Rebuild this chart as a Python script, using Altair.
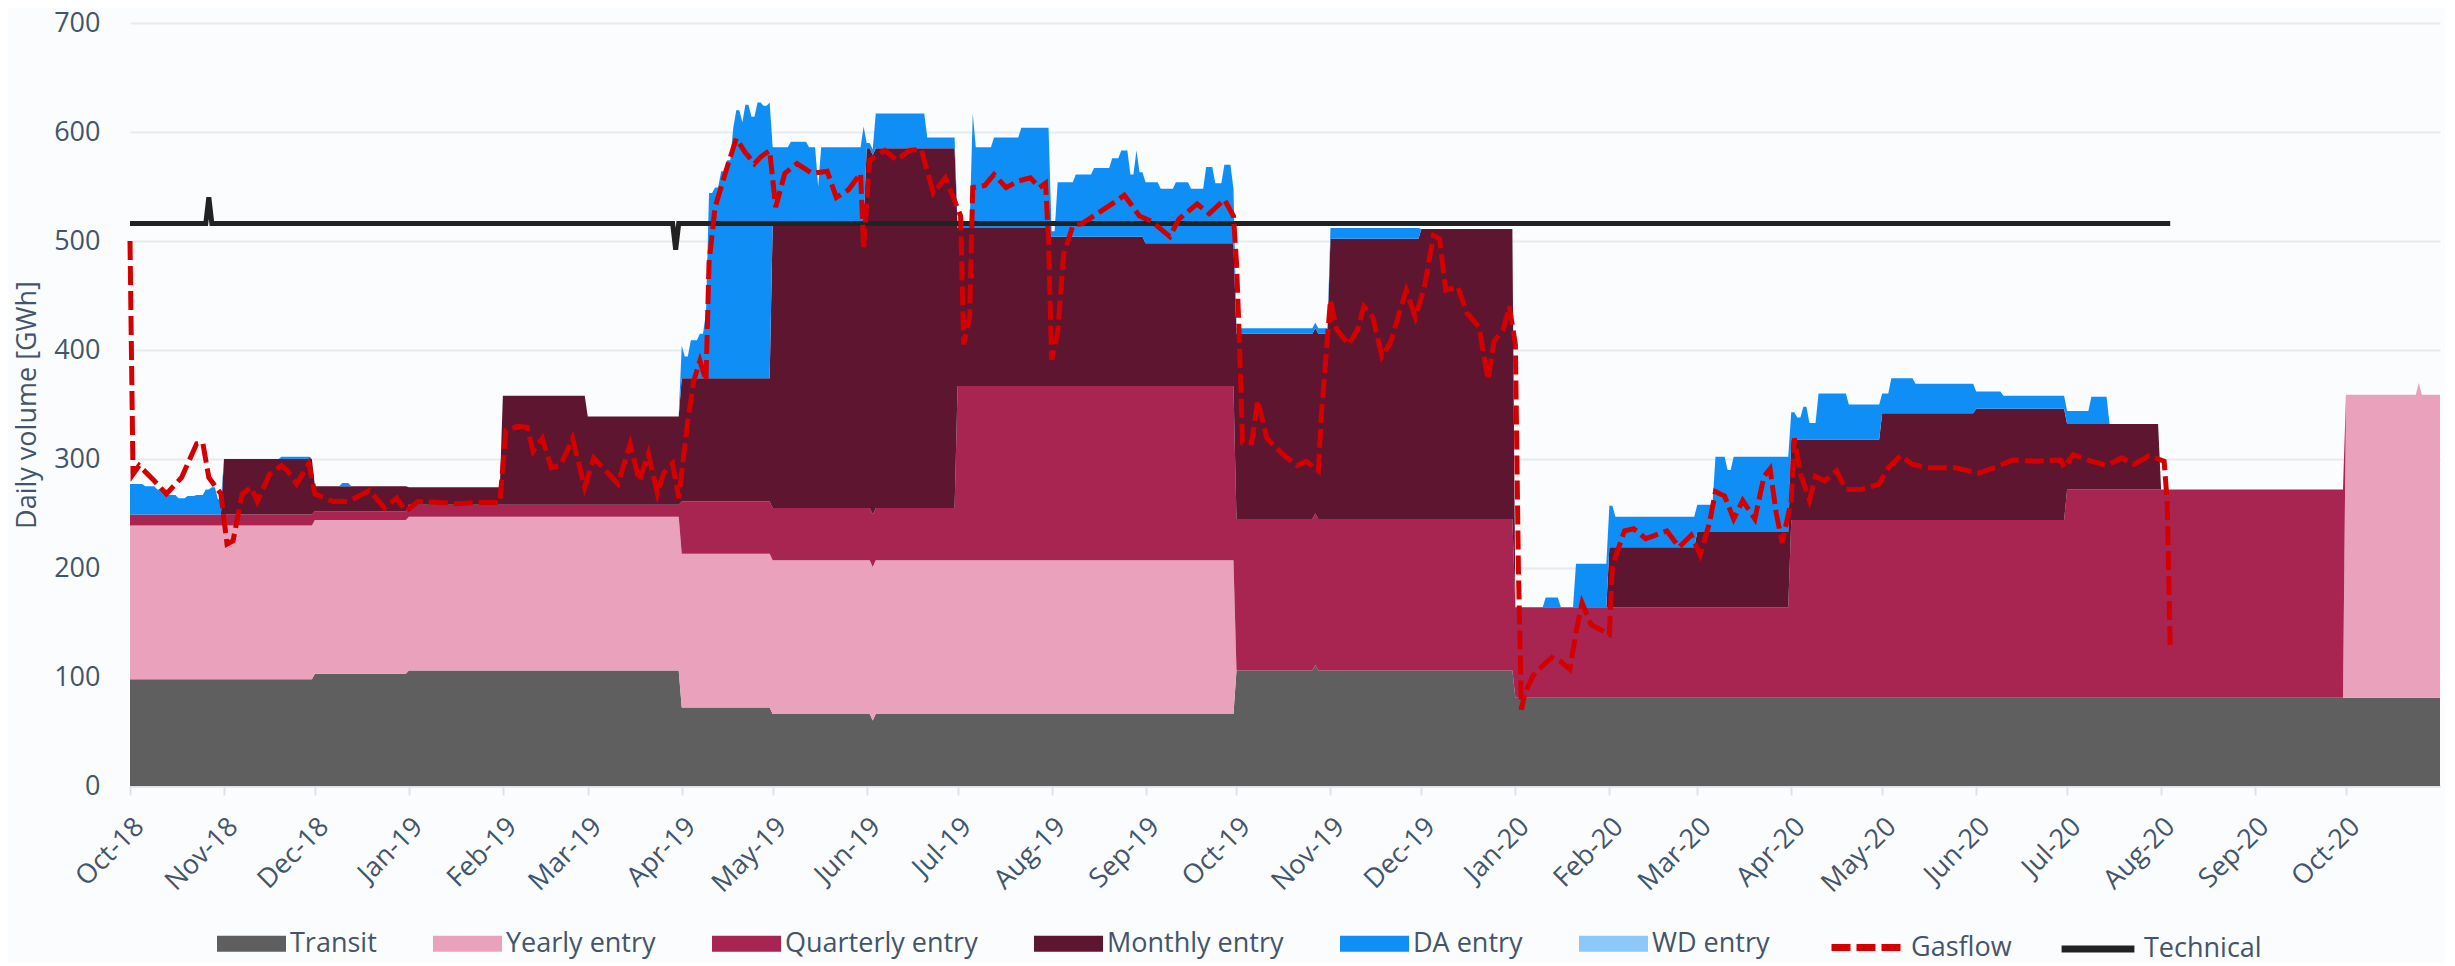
import altair as alt
import pandas as pd

START = "2018-10-01"
END = "2020-11-01"

area_names = ["Transit", "Yearly entry", "Quarterly entry", "Monthly entry",
              "DA entry", "WD entry"]
area_colors = ["#5f5f5f", "#eaa2bc", "#a82552", "#5e1530", "#0f8ff6", "#8cc8f8"]
GAS_COLOR = "#d40000"
TECH_COLOR = "#222222"
GAS_DASH = [19, 6]

# step series: (start of period, value in GWh/d)
transit = [("2018-10-01", 98), ("2018-12-01", 103), ("2019-01-01", 106),
           ("2019-04-01", 72), ("2019-05-01", 66), ("2019-06-03", 60),
           ("2019-06-04", 66), ("2019-10-01", 106), ("2019-10-27", 111),
           ("2019-10-28", 106), ("2020-01-01", 81)]
yearly = [("2018-10-01", 141), ("2019-10-01", 0), ("2020-10-01", 278),
          ("2020-10-25", 289), ("2020-10-26", 278)]
quarterly = [("2018-10-01", 10), ("2018-12-01", 8), ("2019-01-01", 11),
             ("2019-04-01", 48), ("2019-07-01", 160), ("2019-10-01", 139),
             ("2020-01-01", 83), ("2020-04-01", 163), ("2020-07-01", 191),
             ("2020-10-01", 0)]
monthly = [("2018-10-01", 0), ("2018-11-01", 51), ("2018-12-01", 23),
           ("2019-01-01", 16), ("2019-02-01", 100), ("2019-03-01", 81),
           ("2019-04-01", 113), ("2019-05-01", 260), ("2019-06-01", 330),
           ("2019-07-01", 145), ("2019-08-01", 137), ("2019-09-01", 131),
           ("2019-10-01", 170), ("2019-11-01", 257), ("2019-12-01", 266),
           ("2020-01-01", 0), ("2020-02-01", 55), ("2020-03-01", 69),
           ("2020-04-01", 74), ("2020-05-01", 98), ("2020-06-01", 102),
           ("2020-07-01", 60), ("2020-08-01", 0)]
# day-ahead entry: (day since 2018-10-01, value)
da_entry = [(0, 28), (5, 26), (9, 23), (13, 18), (16, 15), (19, 17), (22, 18),
            (25, 23), (27, 25), (29, 14), (31, 0), (50, 2), (60, 0), (70, 3),
            (73, 0), (182, 30), (183, 20), (185, 35), (188, 41), (190, 60),
            (191, 170), (193, 175), (195, 190), (197, 200), (199, 230),
            (200, 246), (202, 235), (203, 251), (205, 240), (207, 253),
            (209, 250), (211, 253), (212, 71), (218, 76), (224, 71), (227, 35),
            (228, 71), (240, 71), (242, 90), (243, 5), (246, 32), (263, 10),
            (273, 5), (278, 105), (279, 74), (285, 83), (294, 92), (304, 5),
            (306, 50), (312, 57), (318, 63), (324, 72), (327, 79), (330, 57),
            (332, 79), (333, 59), (335, 56), (340, 50), (345, 56), (350, 50),
            (355, 70), (358, 55), (361, 72), (364, 50), (365, 5), (396, 10),
            (426, 0), (467, 9), (472, 0), (477, 40), (488, 38), (490, 28),
            (517, 25), (523, 69), (527, 57), (529, 69), (548, 25), (550, 20),
            (552, 30), (554, 15), (557, 42), (567, 32), (578, 18), (581, 32),
            (589, 27), (609, 16), (618, 12), (639, 12), (647, 25), (653, 0)]

gasflow = [(0, 500), (1, 286), (3, 294), (8, 280), (12, 268), (17, 283),
           (22, 314), (24, 315), (26, 283), (30, 268), (32, 222), (34, 225),
           (37, 268), (40, 274), (42, 261), (46, 286), (50, 294), (52, 289),
           (55, 277), (59, 296), (61, 268), (67, 261), (72, 261), (79, 271),
           (84, 255), (88, 264), (91, 252), (95, 261), (102, 260), (108, 259),
           (114, 260), (122, 260), (124, 326), (128, 330), (131, 329),
           (133, 307), (136, 319), (139, 292), (142, 294), (146, 319),
           (150, 274), (153, 301), (158, 286), (161, 277), (165, 314),
           (168, 280), (171, 305), (174, 268), (176, 287), (179, 296),
           (181, 264), (184, 335), (186, 372), (188, 390), (190, 372),
           (191, 480), (193, 531), (197, 568), (200, 594), (203, 581),
           (206, 571), (208, 577), (211, 583), (213, 531), (216, 562),
           (220, 571), (225, 562), (230, 564), (233, 540), (237, 547),
           (241, 562), (242, 493), (244, 574), (249, 583), (253, 574),
           (257, 583), (261, 584), (265, 544), (269, 558), (271, 544),
           (274, 523), (275, 405), (277, 431), (278, 549), (282, 551),
           (285, 561), (289, 549), (293, 555), (297, 558), (300, 549),
           (302, 553), (303, 501), (304, 391), (306, 415), (308, 488),
           (311, 514), (314, 516), (319, 525), (325, 536), (328, 542),
           (333, 523), (337, 518), (343, 504), (346, 520), (352, 534),
           (356, 525), (361, 538), (364, 523), (365, 480), (366, 405),
           (367, 315), (370, 315), (372, 354), (375, 319), (380, 305),
           (385, 294), (388, 298), (392, 289), (393, 341), (396, 446),
           (398, 419), (402, 405), (405, 419), (407, 440), (410, 430),
           (413, 394), (416, 408), (419, 437), (421, 455), (424, 430),
           (427, 458), (430, 505), (432, 502), (434, 455), (438, 458),
           (441, 434), (445, 421), (448, 373), (450, 408), (453, 419),
           (455, 440), (457, 405), (458, 198), (459, 70), (460, 84),
           (463, 102), (467, 113), (469, 118), (472, 114), (475, 107),
           (477, 141), (479, 168), (482, 148), (484, 145), (488, 139),
           (489, 202), (493, 234), (496, 236), (500, 227), (503, 230),
           (507, 234), (511, 219), (515, 230), (518, 212), (521, 241),
           (523, 270), (526, 266), (529, 245), (532, 262), (536, 245),
           (539, 284), (541, 291), (543, 251), (545, 223), (548, 262),
           (549, 319), (551, 287), (554, 262), (556, 284), (559, 280),
           (563, 289), (566, 272), (571, 272), (577, 277), (580, 292),
           (584, 303), (588, 295), (593, 292), (602, 292), (610, 287),
           (615, 292), (621, 299), (629, 298), (637, 299), (638, 292),
           (641, 304), (647, 298), (652, 294), (657, 301), (661, 295),
           (666, 303), (671, 298), (672, 261), (673, 127)]

technical = [(0, 516), (25, 516), (26, 540), (27, 516), (179, 516),
             (180, 492), (181, 516), (673, 516)]

y_ticks = [0, 100, 200, 300, 400, 500, 600, 700]
x_ticks = ["2018-10-01", "2018-11-01", "2018-12-01", "2019-01-01", "2019-02-01",
           "2019-03-01", "2019-04-01", "2019-05-01", "2019-06-01", "2019-07-01",
           "2019-08-01", "2019-09-01", "2019-10-01", "2019-11-01", "2019-12-01",
           "2020-01-01", "2020-02-01", "2020-03-01", "2020-04-01", "2020-05-01",
           "2020-06-01", "2020-07-01", "2020-08-01", "2020-09-01", "2020-10-01"]

# ---------- build tables ----------
days = pd.date_range(START, END, freq="D")
t0 = pd.Timestamp(START)


def step_from_dates(pairs):
    s = pd.Series([v for _, v in pairs], index=pd.to_datetime([d for d, _ in pairs]))
    return s.reindex(days, method="ffill").fillna(0).values


def step_from_days(pairs):
    idx = [t0 + pd.Timedelta(days=d) for d, _ in pairs]
    s = pd.Series([v for _, v in pairs], index=pd.DatetimeIndex(idx))
    return s.reindex(days, method="ffill").fillna(0).values


stack_values = {
    "Transit": step_from_dates(transit),
    "Yearly entry": step_from_dates(yearly),
    "Quarterly entry": step_from_dates(quarterly),
    "Monthly entry": step_from_dates(monthly),
    "DA entry": step_from_days(da_entry),
}
date_str = days.strftime("%Y-%m-%d")
frames = []
for i, name in enumerate(stack_values):
    frames.append(pd.DataFrame({"date": date_str, "value": stack_values[name],
                                "series": name, "ord": i}))
stack_df = pd.concat(frames, ignore_index=True)


def to_df(pairs, name):
    return pd.DataFrame({
        "date": [(t0 + pd.Timedelta(days=d)).strftime("%Y-%m-%d") for d, _ in pairs],
        "value": [v for _, v in pairs], "series": name})


gas_df = to_df(gasflow, "Gasflow")
tech_df = to_df(technical, "Technical")


def dt(s):
    return alt.DateTime(year=int(s[:4]), month=int(s[5:7]), date=int(s[8:10]), utc=True)


FONT = "Open Sans"
TXT = "#44546a"
x_scale = alt.Scale(type="utc", domain=[dt(START), dt(END)], nice=False)
y_scale = alt.Scale(domain=[0, 700], nice=False)

x_axis = alt.Axis(values=[dt(s) for s in x_ticks],
                  labelExpr="utcFormat(datum.value, '%b-%y')",
                  labelAngle=-45, labelAlign="right", labelBaseline="top",
                  labelFontSize=27, labelColor=TXT, labelFont=FONT, grid=False,
                  domainColor="#dde3e9", domainWidth=2, tickColor="#dde3e9",
                  tickWidth=2, tickSize=9, labelPadding=18, labelFlush=False,
                  labelOverlap=False, title=None)
y_axis = alt.Axis(values=y_ticks, grid=True, gridColor="#e7ebf0", gridWidth=2,
                  domain=False, ticks=False, labelFontSize=27, labelColor=TXT,
                  labelFont=FONT, labelPadding=30, title="Daily volume [GWh]",
                  titleFontSize=27, titleFont=FONT, titleColor=TXT,
                  titleFontWeight="normal", titleX=-103, titleBaseline="middle")

LEG_Y = 886
common_leg = dict(orient="none", legendY=LEG_Y, direction="horizontal", title=None,
                  labelFontSize=27, labelFont=FONT, labelColor=TXT,
                  labelLimit=0, padding=0)
area_legend = alt.Legend(legendX=87, columns=6, columnPadding=56, labelOffset=4,
                         symbolType="M-1,-0.232H1V0.232H-1Z", symbolSize=4761,
                         symbolStrokeWidth=0, **common_leg)
gas_legend = alt.Legend(legendX=1698, symbolType="stroke", symbolSize=4900,
                        symbolStrokeWidth=7, symbolDash=GAS_DASH, labelOffset=6,
                        **common_leg)
tech_legend = alt.Legend(legendX=1928, symbolType="stroke", symbolSize=5300,
                         symbolStrokeWidth=7, labelOffset=6, **common_leg)

areas = alt.Chart(stack_df).mark_area(opacity=1, interpolate="linear").encode(
    x=alt.X("date:T", scale=x_scale, axis=x_axis),
    y=alt.Y("value:Q", stack="zero", scale=y_scale, axis=y_axis),
    color=alt.Color("series:N", scale=alt.Scale(domain=area_names, range=area_colors),
                    legend=area_legend),
    order=alt.Order("ord:Q", sort="ascending"),
)
tech = alt.Chart(tech_df).mark_line(strokeWidth=5).encode(
    x=alt.X("date:T"),
    y=alt.Y("value:Q"),
    color=alt.Color("series:N", scale=alt.Scale(domain=["Technical"], range=[TECH_COLOR]),
                    legend=tech_legend),
)
gas = alt.Chart(gas_df).mark_line(strokeWidth=5, strokeDash=GAS_DASH).encode(
    x=alt.X("date:T"),
    y=alt.Y("value:Q"),
    color=alt.Color("series:N", scale=alt.Scale(domain=["Gasflow"], range=[GAS_COLOR]),
                    legend=gas_legend),
)

chart = alt.layer(areas, tech, gas).resolve_scale(color="independent").properties(
    width=2310, height=763,
    padding={"left": 122, "top": 15, "right": 5, "bottom": 177},
    autosize=alt.AutoSizeParams(type="none"),
    background="#fbfcfd",
).configure(font=FONT).configure_view(stroke=None)

chart.save("out.html", embed_options={"renderer": "svg", "actions": False})
